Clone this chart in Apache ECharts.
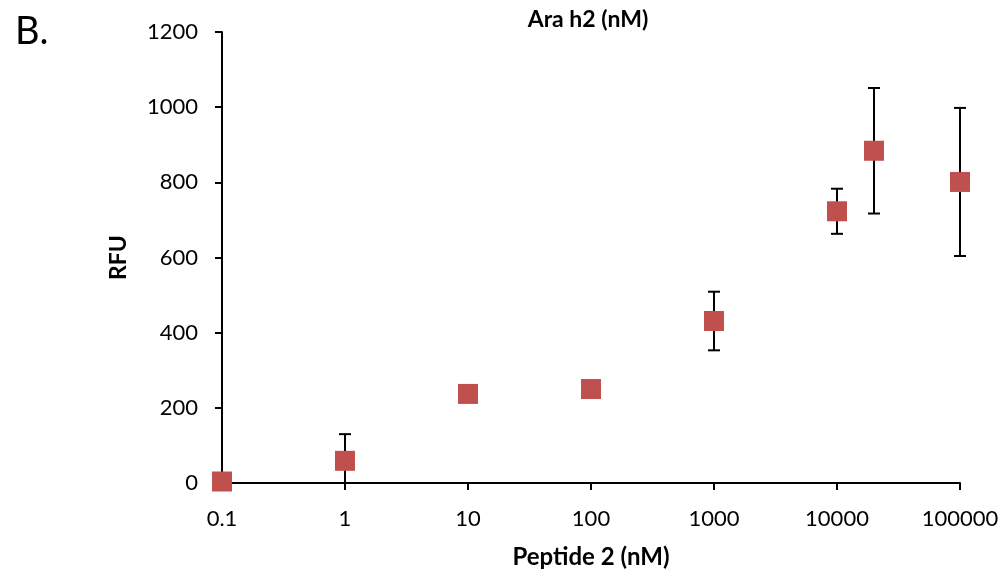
<!DOCTYPE html>
<html>
<head>
<meta charset="utf-8">
<script src="https://cdn.jsdelivr.net/npm/echarts@6/dist/echarts.min.js"></script>
<style>
html,body{margin:0;padding:0;background:#fff;}
#chart{width:1006px;height:574px;}
</style>
</head>
<body>
<div id="chart"></div>
<script>
const concentrations = [0.1, 1, 10, 100, 1000, 10000, 20000, 100000];
const rfuValues = [4, 59, 237, 250, 431, 723, 884, 801];
const rfuErrors = [0, 71, 0, 0, 78, 60, 167, 197];
const yTicks = [0, 200, 400, 600, 800, 1000, 1200];
const titleText = 'Ara h2 (nM)';
const xName = 'Peptide 2 (nM)';
const yName = 'RFU';
const panelLabel = 'B.';

const FONT = 'Lato, "Open Sans", sans-serif';
const chart = echarts.init(document.getElementById('chart'), null, {renderer: 'canvas'});

const pointData = concentrations.map((c, i) => [c, rfuValues[i]]);
const errData = concentrations.map((c, i) => [c, rfuValues[i], rfuErrors[i]]);

chart.setOption({
  backgroundColor: '#fff',
  animation: false,
  title: [
    {text: titleText, left: 583, top: 3, textAlign: 'center',
     textStyle: {fontFamily: FONT, fontWeight: 'bold', fontSize: 23, color: '#000'}},
    {text: panelLabel, left: 10, top: 8,
     textStyle: {fontFamily: FONT, fontWeight: 'normal', fontSize: 38, color: '#000'}}
  ],
  grid: {left: 222, right: 46, top: 32, bottom: 91, containLabel: false},
  xAxis: {
    type: 'log', logBase: 10, min: 0.1, max: 100000, interval: 1,
    name: xName, nameLocation: 'middle', nameGap: 62,
    nameTextStyle: {fontFamily: FONT, fontWeight: 'bold', fontSize: 24, color: '#000'},
    axisLine: {show: true, onZero: false, lineStyle: {color: '#000', width: 2}},
    axisTick: {show: true, inside: false, length: 7, lineStyle: {color: '#000', width: 2}},
    minorTick: {show: false},
    splitLine: {show: false},
    axisLabel: {fontFamily: FONT, fontSize: 22, color: '#000', margin: 25,
      formatter: v => String(Math.round(v * 10) / 10)}
  },
  yAxis: {
    type: 'value', min: yTicks[0], max: yTicks[yTicks.length - 1], interval: 200,
    name: yName, nameLocation: 'middle', nameGap: 92, nameRotate: 90,
    nameTextStyle: {fontFamily: FONT, fontWeight: 'bold', fontSize: 23, color: '#000'},
    axisLine: {show: true, onZero: false, lineStyle: {color: '#000', width: 2}},
    axisTick: {show: true, inside: false, length: 7, lineStyle: {color: '#000', width: 2}},
    splitLine: {show: false},
    axisLabel: {fontFamily: FONT, fontSize: 22, color: '#000', margin: 24,
      formatter: v => String(v)}
  },
  series: [
    {
      type: 'custom',
      z: 2,
      clip: false,
      data: errData,
      renderItem: function (params, api) {
        const x = api.value(0), y = api.value(1), e = api.value(2);
        if (!e) return null;
        const lo = Math.max(0, y - e), hi = y + e;
        const pHi = api.coord([x, hi]);
        const pLo = api.coord([x, lo]);
        const half = 6;
        const style = {stroke: '#000', lineWidth: 2};
        const children = [
          {type: 'line', shape: {x1: pHi[0], y1: pHi[1], x2: pLo[0], y2: pLo[1]}, style: style},
          {type: 'line', shape: {x1: pHi[0] - half, y1: pHi[1], x2: pHi[0] + half, y2: pHi[1]}, style: style}
        ];
        if (y - e > 0) {
          children.push({type: 'line', shape: {x1: pLo[0] - half, y1: pLo[1], x2: pLo[0] + half, y2: pLo[1]}, style: style});
        }
        return {type: 'group', children: children};
      }
    },
    {
      type: 'scatter',
      z: 5,
      symbol: 'rect',
      symbolSize: 20,
      clip: false,
      itemStyle: {color: '#C0504D', opacity: 1},
      data: pointData
    }
  ]
});
</script>
</body>
</html>
